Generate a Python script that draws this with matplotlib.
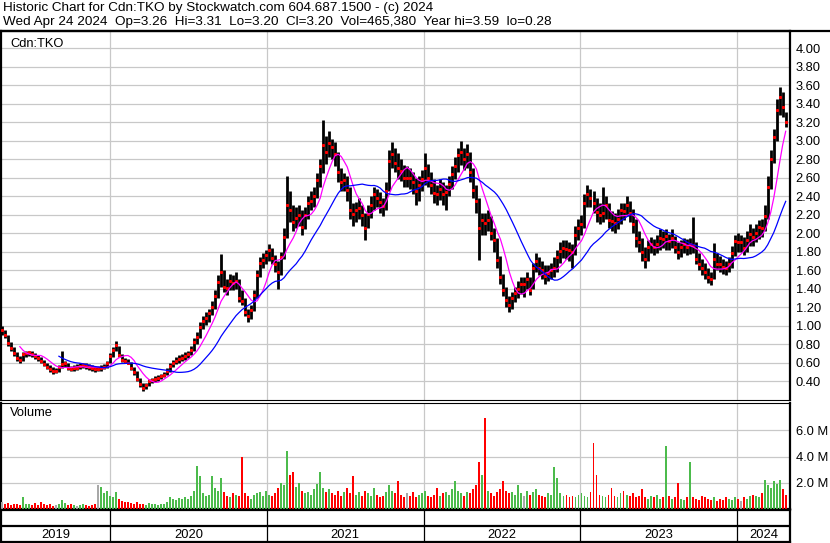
import numpy as np
import pandas as pd
import matplotlib
matplotlib.use('Agg')
import matplotlib.pyplot as plt
from matplotlib.lines import Line2D

plt.rcParams['font.family'] = ['Liberation Sans', 'DejaVu Sans']

############# Data (weekly) #############
close = [0.95,0.90,0.81,0.76,0.70,0.65,0.63,0.69,0.70,0.71,
         0.69,0.67,0.65,0.62,0.58,0.55,0.53,0.51,0.51,0.55,
         0.58,0.60,0.54,0.53,0.54,0.54,0.56,0.57,0.56,0.55,
         0.54,0.53,0.53,0.54,0.55,0.59,0.67,0.74,0.79,0.68,
         0.63,0.62,0.60,0.54,0.50,0.42,0.37,0.32,0.36,0.40,
         0.41,0.42,0.43,0.45,0.47,0.51,0.56,0.60,0.62,0.64,
         0.65,0.67,0.69,0.74,0.82,0.88,0.98,1.05,1.08,1.14,
         1.20,1.32,1.47,1.58,1.42,1.41,1.48,1.46,1.48,1.30,
         1.27,1.15,1.10,1.17,1.33,1.55,1.68,1.71,1.76,1.82,
         1.73,1.67,1.58,1.74,1.96,2.30,2.25,2.12,2.16,2.20,
         2.07,2.20,2.33,2.35,2.40,2.57,2.72,2.95,2.88,2.97,
         2.93,2.85,2.66,2.55,2.57,2.47,2.25,2.21,2.25,2.27,
         2.20,2.05,2.21,2.30,2.42,2.38,2.34,2.29,2.45,2.78,
         2.85,2.76,2.70,2.67,2.60,2.60,2.59,2.55,2.45,2.52,
         2.58,2.70,2.60,2.52,2.43,2.42,2.48,2.42,2.44,2.53,
         2.64,2.73,2.84,2.88,2.80,2.85,2.66,2.47,2.35,2.05,
         2.14,2.11,2.14,2.00,1.92,1.71,1.52,1.38,1.28,1.22,
         1.30,1.35,1.40,1.45,1.45,1.50,1.38,1.62,1.70,1.62,
         1.60,1.54,1.57,1.60,1.62,1.74,1.81,1.84,1.83,1.82,
         1.80,1.98,2.05,2.10,2.33,2.42,2.38,2.33,2.23,2.20,
         2.22,2.30,2.14,2.13,2.11,2.15,2.25,2.24,2.30,2.22,
         2.10,1.95,1.90,1.80,1.72,1.85,1.88,1.85,1.88,1.95,
         1.94,1.97,1.91,1.95,1.85,1.79,1.85,1.88,1.85,1.88,
         1.87,1.72,1.66,1.62,1.58,1.52,1.50,1.72,1.67,1.66,
         1.63,1.62,1.66,1.78,1.91,1.90,1.90,1.84,1.92,1.99,
         1.96,2.00,2.06,2.05,2.18,2.50,2.80,3.04,3.33,3.47,
         3.36,3.20]

low = [0.90,0.86,0.78,0.72,0.67,0.62,0.60,0.62,0.66,0.67,
       0.66,0.64,0.62,0.59,0.56,0.53,0.50,0.48,0.49,0.50,
       0.54,0.55,0.52,0.51,0.51,0.52,0.53,0.54,0.53,0.52,
       0.51,0.50,0.51,0.51,0.53,0.54,0.59,0.66,0.73,0.66,
       0.61,0.60,0.58,0.52,0.47,0.40,0.34,0.29,0.31,0.35,
       0.38,0.39,0.40,0.42,0.44,0.46,0.50,0.55,0.58,0.60,
       0.62,0.63,0.65,0.68,0.73,0.80,0.87,0.96,1.01,1.04,
       1.11,1.18,1.30,1.42,1.36,1.33,1.38,1.38,1.40,1.25,
       1.22,1.10,1.04,1.07,1.16,1.30,1.52,1.62,1.66,1.70,
       1.66,1.58,1.40,1.55,1.72,1.95,2.12,2.02,2.05,2.08,
       1.98,2.04,2.15,2.25,2.28,2.38,2.50,2.65,2.75,2.82,
       2.80,2.72,2.55,2.45,2.45,2.35,2.15,2.08,2.12,2.15,
       2.08,1.92,2.05,2.16,2.25,2.28,2.22,2.18,2.25,2.45,
       2.70,2.66,2.58,2.56,2.50,2.50,2.48,2.42,2.30,2.35,
       2.45,2.52,2.50,2.42,2.32,2.30,2.36,2.30,2.25,2.40,
       2.48,2.58,2.66,2.74,2.68,2.70,2.55,2.38,2.22,1.71,
       1.98,1.98,2.02,1.92,1.80,1.62,1.45,1.32,1.20,1.15,
       1.18,1.25,1.30,1.34,1.31,1.40,1.33,1.40,1.58,1.55,
       1.50,1.45,1.48,1.50,1.52,1.58,1.68,1.73,1.72,1.70,
       1.62,1.76,1.92,1.98,2.05,2.28,2.28,2.22,2.12,2.10,
       2.12,2.15,2.05,2.02,2.00,2.04,2.10,2.14,2.18,2.12,
       2.00,1.85,1.80,1.70,1.62,1.70,1.78,1.76,1.78,1.82,
       1.84,1.82,1.82,1.84,1.78,1.72,1.74,1.78,1.76,1.77,
       1.78,1.66,1.60,1.55,1.50,1.46,1.44,1.50,1.60,1.58,
       1.56,1.55,1.58,1.62,1.75,1.80,1.80,1.76,1.80,1.86,
       1.86,1.90,1.94,1.96,2.02,2.15,2.48,2.76,3.00,3.28,
       3.25,3.15]

high = [1.00,0.95,0.90,0.82,0.77,0.71,0.67,0.71,0.73,0.73,
        0.72,0.70,0.68,0.66,0.63,0.59,0.57,0.55,0.54,0.57,
        0.73,0.62,0.60,0.56,0.57,0.58,0.60,0.60,0.59,0.58,
        0.57,0.56,0.56,0.57,0.58,0.62,0.70,0.77,0.83,0.78,
        0.69,0.65,0.64,0.61,0.55,0.51,0.43,0.38,0.38,0.42,
        0.43,0.45,0.46,0.48,0.50,0.54,0.59,0.63,0.66,0.68,
        0.69,0.71,0.73,0.78,0.86,0.93,1.04,1.10,1.15,1.18,
        1.26,1.38,1.55,1.77,1.60,1.50,1.56,1.55,1.58,1.50,
        1.38,1.30,1.18,1.22,1.38,1.60,1.74,1.78,1.82,1.88,
        1.84,1.76,1.70,1.80,2.05,2.62,2.45,2.30,2.28,2.30,
        2.25,2.28,2.40,2.45,2.50,2.65,2.80,3.22,3.05,3.10,
        3.02,2.98,2.88,2.70,2.65,2.62,2.50,2.32,2.34,2.38,
        2.30,2.22,2.30,2.40,2.50,2.48,2.44,2.38,2.55,2.90,
        2.98,2.92,2.86,2.80,2.74,2.72,2.70,2.66,2.60,2.62,
        2.68,2.86,2.75,2.66,2.58,2.52,2.58,2.55,2.52,2.62,
        2.72,2.82,2.92,2.99,2.92,2.96,2.88,2.70,2.52,2.38,
        2.22,2.22,2.25,2.18,2.05,1.95,1.75,1.56,1.42,1.32,
        1.36,1.42,1.48,1.52,1.53,1.58,1.52,1.68,1.78,1.74,
        1.70,1.65,1.65,1.68,1.74,1.82,1.90,1.93,1.92,1.90,
        1.88,2.08,2.15,2.20,2.42,2.52,2.48,2.45,2.38,2.32,
        2.50,2.40,2.32,2.24,2.22,2.26,2.33,2.33,2.40,2.35,
        2.26,2.15,2.02,1.95,1.85,1.92,1.96,1.94,1.98,2.04,
        2.02,2.04,1.99,2.04,1.97,1.90,1.92,1.95,1.94,1.95,
        2.17,1.90,1.78,1.72,1.68,1.62,1.58,1.89,1.78,1.75,
        1.72,1.70,1.74,1.86,1.98,2.00,1.98,1.96,2.02,2.10,
        2.05,2.10,2.14,2.15,2.30,2.62,2.90,3.12,3.45,3.58,
        3.52,3.31]

# volume in millions of shares
volume = [0.55,0.35,0.45,0.30,0.40,0.35,0.30,0.90,0.40,0.35,
          0.30,0.45,0.30,0.55,0.35,0.30,0.40,0.25,0.30,0.35,
          0.70,0.45,0.30,0.35,0.30,0.25,0.30,0.35,0.30,0.25,
          0.30,0.40,1.80,1.70,1.20,1.40,1.00,0.90,1.30,0.80,
          0.60,0.50,0.55,0.45,0.40,0.50,0.35,0.40,0.30,0.45,
          0.40,0.35,0.30,0.35,0.40,0.55,0.90,0.80,0.70,0.85,
          0.75,0.90,0.80,1.00,1.40,3.30,2.50,1.20,1.00,1.10,
          2.50,1.60,1.40,2.40,1.30,1.00,0.90,1.20,1.10,1.00,
          4.00,1.20,1.00,0.80,1.10,1.20,1.30,1.00,1.40,1.10,
          1.00,1.20,1.60,2.00,1.80,4.40,2.60,2.80,1.70,2.00,
          1.40,1.20,1.30,1.10,1.50,1.90,2.80,1.60,1.30,1.50,
          1.20,1.10,1.40,1.00,1.30,1.60,1.20,2.50,1.10,1.30,
          1.00,1.40,1.20,1.00,1.60,1.10,0.90,1.00,1.30,1.80,
          1.40,1.20,2.10,1.10,0.90,1.20,1.00,1.30,0.90,1.10,
          1.20,1.40,1.00,0.90,1.10,1.60,1.00,1.20,1.30,1.10,
          1.50,2.10,1.40,1.20,1.00,1.30,1.20,1.50,1.80,3.60,
          2.60,6.90,1.40,1.20,1.00,1.30,1.50,2.10,1.40,1.20,
          1.30,1.10,1.80,1.20,1.00,1.40,1.10,1.30,1.50,1.10,
          1.00,0.90,1.20,1.10,3.20,2.40,1.20,1.00,1.10,0.90,
          1.00,0.90,1.10,1.20,1.00,0.90,1.30,5.00,2.60,1.10,
          1.00,0.90,1.10,1.60,1.00,0.90,1.20,1.40,1.10,1.00,
          1.20,0.90,1.00,1.50,0.90,0.80,1.00,0.90,1.10,0.80,
          0.90,4.80,1.00,0.80,0.90,2.00,0.80,0.70,0.90,3.60,
          0.90,0.80,0.70,1.00,0.90,0.80,0.70,0.90,0.60,0.80,
          0.70,0.90,0.80,0.70,0.90,0.80,0.60,0.90,0.80,1.00,
          1.10,1.00,0.90,1.20,2.20,1.80,1.60,2.10,1.90,2.20,
          1.50,1.10]

year_labels = ['2019', '2020', '2021', '2022', '2023', '2024']

weeks = pd.date_range('2019-04-24', periods=len(close), freq='7D')
close_s = pd.Series(close, index=weeks)
ma_short = close_s.rolling(7).mean()
ma_long = close_s.rolling(20).mean()

x_start = pd.Timestamp('2019-04-22')
x_end = pd.Timestamp('2024-05-04')
year_starts = [pd.Timestamp(f'{y}-01-01') for y in year_labels[1:]]

grid_col = '#c8c8c8'
W, H = 830, 543

def frac_box(x0, y0, x1, y1):
    # pixel box (top-left origin) -> figure fraction rect
    return [x0 / W, 1 - y1 / H, (x1 - x0) / W, (y1 - y0) / H]

fig = plt.figure(figsize=(8.3, 5.43), dpi=100)

# header
fig.text(3 / W, 1 - 8 / H, 'Historic Chart for Cdn:TKO by Stockwatch.com 604.687.1500 - (c) 2024',
         fontsize=9.7, va='center', ha='left')
fig.text(3 / W, 1 - 22 / H, 'Wed Apr 24 2024  Op=3.26  Hi=3.31  Lo=3.20  Cl=3.20  '
         'Vol=465,380  Year hi=3.59  lo=0.28', fontsize=9.7, va='center', ha='left')
fig.add_artist(Line2D([0, 1], [1 - 30.5 / H] * 2, color='black', lw=1.6))

############# Price panel #############
ax = fig.add_axes(frac_box(1, 31, 790, 400))
ax.vlines(weeks, low, high, color='black', lw=2.0, zorder=3)
ax.plot(weeks, close, ls='none', marker='s', ms=1.2, color='red', mec='red', zorder=4)
ax.plot(weeks, ma_short, color='#ff00ff', lw=0.9, zorder=5)
ax.plot(weeks, ma_long, color='#0000ff', lw=0.9, zorder=5)
ax.set_xlim(x_start, x_end)
ax.set_ylim(0.195, 4.184)
yt = np.arange(0.4, 4.01, 0.2)
ax.set_yticks(yt)
ax.set_yticklabels(['%.2f' % v for v in yt], fontsize=9.3)
ax.yaxis.tick_right()
ax.tick_params(axis='y', length=0, pad=4)
ax.set_xticks([])
for v in yt:
    ax.axhline(v, color=grid_col, lw=0.9, zorder=1)
for d in year_starts:
    ax.axvline(d, color=grid_col, lw=0.9, zorder=1)
ax.text(9 / 789, 1 - 13 / 369, 'Cdn:TKO', transform=ax.transAxes, fontsize=9.3, va='center')
for side in ['left', 'right', 'top']:
    ax.spines[side].set_linewidth(1.6)
ax.spines['bottom'].set_linewidth(0.8)

############# Volume panel #############
axv = fig.add_axes(frac_box(1, 403, 790, 509))
diff = np.diff(close, prepend=close[0])
colors = ['#4cbb4c' if d > 0 else ('#ff0000' if d < 0 else '#a8a8a8') for d in diff]
axv.bar(weeks, volume, width=4.5, color=colors, zorder=3)
axv.set_xlim(x_start, x_end)
axv.set_ylim(0, 8.08)
axv.set_yticks([2, 4, 6])
axv.set_yticklabels(['2.0 M', '4.0 M', '6.0 M'], fontsize=9.3)
axv.yaxis.tick_right()
axv.tick_params(axis='y', length=0, pad=4)
axv.set_xticks([])
for v in [2, 4, 6]:
    axv.axhline(v, color=grid_col, lw=0.9, zorder=1)
for d in year_starts:
    axv.axvline(d, color=grid_col, lw=0.9, zorder=1)
axv.text(9 / 789, 1 - 10 / 106, 'Volume', transform=axv.transAxes, fontsize=9.3, va='center')
for side in ['left', 'right']:
    axv.spines[side].set_linewidth(1.6)
axv.spines['top'].set_linewidth(0.8)
axv.spines['bottom'].set_linewidth(1.6)

############# Year band #############
axy = fig.add_axes(frac_box(1, 510, 790, 542))
axy.set_xlim(x_start, x_end)
axy.set_ylim(0, 1)
axy.set_xticks([])
axy.set_yticks([])
axy.axhline(0.5, color='black', lw=1.6)
for d in year_starts:
    axy.axvline(d, color='black', lw=0.9)
edges = [x_start] + year_starts + [x_end]
for i, lab in enumerate(year_labels):
    mid = edges[i] + (edges[i + 1] - edges[i]) / 2
    axy.text(mid, 0.22, lab, ha='center', va='center', fontsize=9.3)
for side in ['left', 'right', 'top', 'bottom']:
    axy.spines[side].set_linewidth(1.6)

plt.savefig('out.png', dpi=100)
